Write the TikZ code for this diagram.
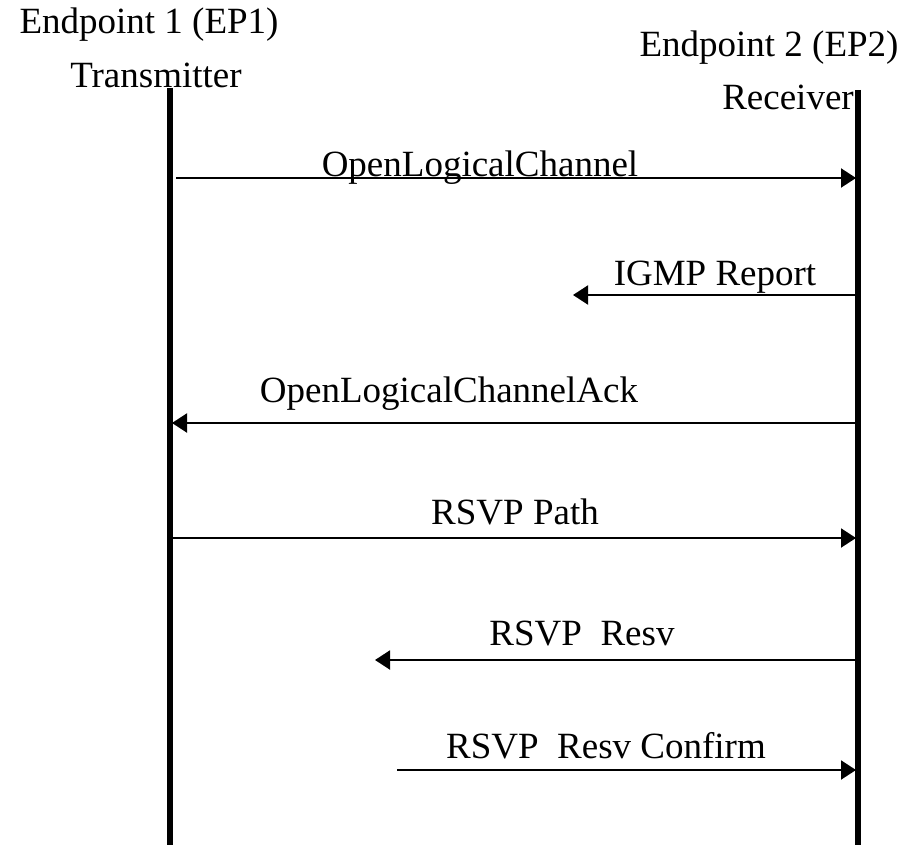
\documentclass[tikz,border=0pt]{standalone}
\usepackage{fontspec}
\setmainfont{Liberation Serif}
\usetikzlibrary{arrows.meta}
\tikzset{
  lifeline/.style={line width=6pt},
  msg/.style={line width=2pt,-{Triangle[length=15pt,width=19pt]}},
  lbl/.style={anchor=base,inner sep=0pt,font=\fontsize{37}{44}\selectfont},
}
\begin{document}
\begin{tikzpicture}[x=1pt,y=-1pt]
\useasboundingbox (0,0) rectangle (915,845);
% headers
\node[lbl] (h1) at (149,34) {Endpoint 1 (EP1)};
\node[lbl] (t1) at (156,88) {Transmitter};
\node[lbl] (h2) at (769,57) {Endpoint 2 (EP2)};
\node[lbl] (r2) at (788,110) {Receiver};
% lifelines
\coordinate (a0) at (170,88);
\coordinate (a1) at (170,845);
\coordinate (b0) at (858,90);
\coordinate (b1) at (858,845);
\draw[lifeline] (a0) -- (a1);
\draw[lifeline] (b0) -- (b1);
% message endpoints
\coordinate (m1s) at (176,178); \coordinate (m1e) at (856,178);
\coordinate (m2s) at (855,295); \coordinate (m2e) at (573,295);
\coordinate (m3s) at (855,423); \coordinate (m3e) at (172,423);
\coordinate (m4s) at (173,538); \coordinate (m4e) at (856,538);
\coordinate (m5s) at (855,660); \coordinate (m5e) at (375,660);
\coordinate (m6s) at (397,770); \coordinate (m6e) at (856,770);
\draw[msg] (m1s) -- (m1e);
\draw[msg] (m2s) -- (m2e);
\draw[msg] (m3s) -- (m3e);
\draw[msg] (m4s) -- (m4e);
\draw[msg] (m5s) -- (m5e);
\draw[msg] (m6s) -- (m6e);
% labels
\node[lbl] (l1) at (480,177) {OpenLogicalChannel};
\node[lbl] (l2) at (715,285) {IGMP Report};
\node[lbl] (l3) at (449,402) {OpenLogicalChannelAck};
\node[lbl] (l4) at (515,524) {RSVP Path};
\node[lbl] (l5) at (582,645) {RSVP\ \ Resv};
\node[lbl] (l6) at (606,758) {RSVP\ \ Resv Confirm};
\end{tikzpicture}
\end{document}
